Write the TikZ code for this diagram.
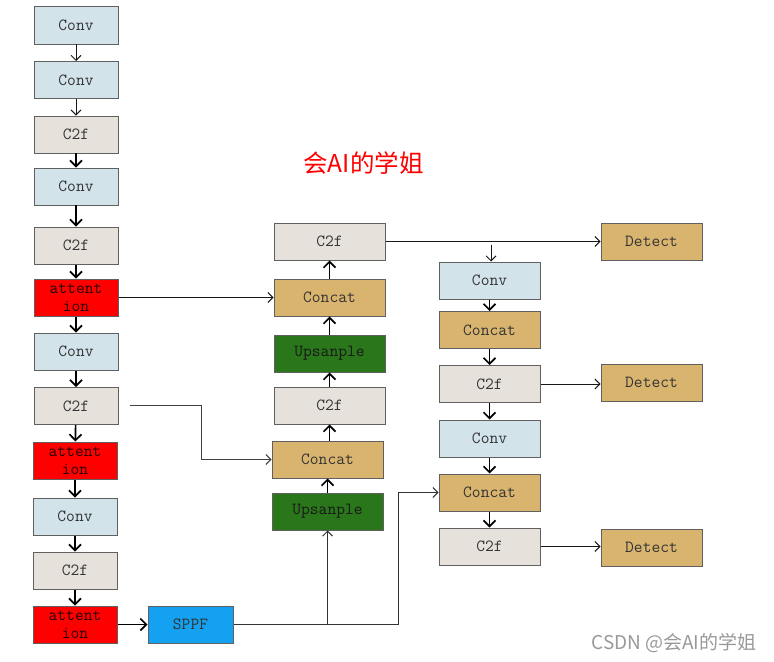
\documentclass[tikz,border=0pt]{standalone}
\usepackage{fontspec}
\newfontfamily\cjk{Noto Sans CJK SC}
\usetikzlibrary{arrows.meta}
\definecolor{convc}{HTML}{D2E3EA}
\definecolor{cfc}{HTML}{E6E1DB}
\definecolor{attc}{HTML}{FF0000}
\definecolor{catc}{HTML}{D9B46E}
\definecolor{upc}{HTML}{2A761A}
\definecolor{sppfc}{HTML}{14A1F1}
\definecolor{bordc}{HTML}{606060}
\definecolor{txtc}{HTML}{333333}
\tikzset{
  blk/.style={draw=bordc, line width=1pt, minimum height=37bp, inner sep=0pt,
    font=\ttfamily\fontsize{17bp}{18bp}\selectfont, text=txtc, align=center},
  lw/.style={blk, minimum width=84bp},
  mw/.style={blk, minimum width=111bp},
  rw/.style={blk, minimum width=101bp},
  conv/.style={fill=convc},
  cf/.style={fill=cfc},
  att/.style={fill=attc, text=black!85!red},
  cat/.style={fill=catc},
  up/.style={fill=upc, text=black!90},
  sppf/.style={fill=sppfc},
  thinarr/.style={draw=black!90, line width=0.9pt, -{Straight Barb[length=5bp,width=10bp]}},
  thickarr/.style={draw=black, line width=1.7pt, -{Straight Barb[length=6bp,width=12bp]}},
}
\begin{document}
\begin{tikzpicture}[x=1bp,y=-1bp]
\useasboundingbox (0,0) rectangle (774,662);
% left column
\node[lw,conv] (L1) at (76,25.5) {Conv};
\node[lw,conv] (L2) at (76,80) {Conv};
\node[lw,cf] (L3) at (76,134.5) {C2f};
\node[lw,conv] (L4) at (76,186.5) {Conv};
\node[lw,cf] (L5) at (76,245.5) {C2f};
\node[lw,att] (L6) at (76,297.5) {attent\\ion};
\node[lw,conv] (L7) at (76,351.5) {Conv};
\node[lw,cf] (L8) at (76,406) {C2f};
\node[lw,att] (L9) at (75,460.5) {attent\\ion};
\node[lw,conv] (L10) at (75,516.5) {Conv};
\node[lw,cf] (L11) at (75,570.5) {C2f};
\node[lw,att] (L12) at (75,624.5) {attent\\ion};
\node[blk,sppf,minimum width=85bp] (SP) at (190.5,624.5) {SPPF};
% middle column
\node[mw,cf] (M1) at (329.5,241.5) {C2f};
\node[mw,cat] (M2) at (329.5,297.5) {Concat};
\node[mw,up] (M3) at (329.5,353.5) {Upsanple};
\node[mw,cf] (M4) at (329.5,405.5) {C2f};
\node[mw,cat] (M5) at (327.5,459.5) {Concat};
\node[mw,up] (M6) at (327.5,511.5) {Upsanple};
% right column
\node[rw,conv] (R1) at (489.5,280.5) {Conv};
\node[rw,cat] (R2) at (489.5,330) {Concat};
\node[rw,cf] (R3) at (489.5,384) {C2f};
\node[rw,conv] (R4) at (489.5,438.5) {Conv};
\node[rw,cat] (R5) at (489.5,492.5) {Concat};
\node[rw,cf] (R6) at (489.5,546.5) {C2f};
% detect
\node[rw,cat] (D1) at (651.5,241.5) {Detect};
\node[rw,cat] (D2) at (651.5,382.5) {Detect};
\node[rw,cat] (D3) at (651.5,547.5) {Detect};
% title and watermark
\node[text=red, font=\cjk\fontsize{24.5bp}{28bp}\selectfont] (T) at (363.5,163) {会AI的学姐};
\node[text=black!40, font=\cjk\fontsize{19bp}{22bp}\selectfont, anchor=east] (W) at (760,643) {CSDN @会AI的学姐};
% left column arrows
\draw[thinarr] (L1) -- (L2);
\draw[thinarr] (L2) -- (L3);
\draw[thickarr] (L3) -- (L4);
\draw[thickarr] (L4) -- (L5);
\draw[thickarr] (L5) -- (L6);
\draw[thickarr] (L6) -- (L7);
\draw[thickarr] (L7) -- (L8);
\draw[thickarr] (L8) -- (L9);
\draw[thickarr] (L9) -- (L10);
\draw[thickarr] (L10) -- (L11);
\draw[thickarr] (L11) -- (L12);
\draw[thickarr] (L12) -- (SP);
% middle column arrows (upward)
\draw[thickarr] (M6) -- (M5);
\draw[thickarr] (M5.north -| M4) -- (M4);
\draw[thickarr] (M4) -- (M3);
\draw[thickarr] (M3) -- (M2);
\draw[thickarr] (M2) -- (M1);
% right column arrows
\draw[thickarr] (R1) -- (R2);
\draw[thickarr] (R2) -- (R3);
\draw[thickarr] (R3) -- (R4);
\draw[thickarr] (R4) -- (R5);
\draw[thickarr] (R5) -- (R6);
% cross connections
\draw[thinarr] (L6) -- (M2);
\coordinate (c8) at (130,405);
\draw[thinarr, draw=black!75] (c8) -| (201,459.5) -- (M5);
\coordinate (sj) at (327.5,624.5);
\draw[thinarr, draw=black!80] (SP) -- (sj) -- (M6.south);
\draw[thinarr, draw=black!80] (sj) -| (398,492.5) -- (R5);
\draw[thinarr] (M1) -- (D1);
\coordinate (r1t) at (491,245);
\draw[thinarr] (r1t) -- (r1t |- R1.north);
\draw[thinarr] (R3) -- (D2.west |- R3);
\draw[thinarr] (R6) -- (D3.west |- R6);
\end{tikzpicture}
\end{document}
